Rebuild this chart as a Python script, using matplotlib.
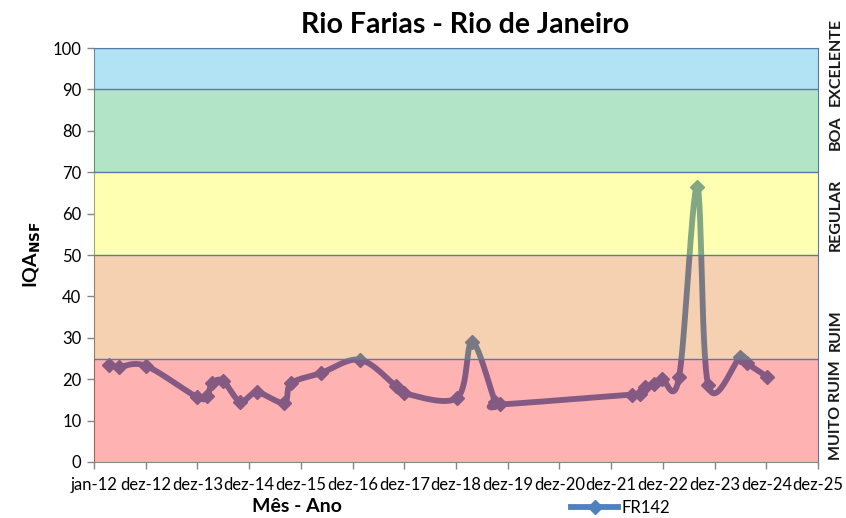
import numpy as np
import pandas as pd
import matplotlib
matplotlib.use('Agg')
import matplotlib.pyplot as plt
import matplotlib.dates as mdates
from matplotlib.lines import Line2D

# sampling dates and IQA values (FR142)
dates = ['2012-04-16', '2012-06-25', '2013-01-02', '2013-12-28', '2014-03-09',
         '2014-04-13', '2014-06-30', '2014-10-28', '2015-02-24', '2015-09-03',
         '2015-10-23', '2016-05-22', '2017-02-21', '2017-11-02', '2017-12-29',
         '2019-01-07', '2019-04-23', '2019-10-02', '2019-11-06', '2022-05-26',
         '2022-07-22', '2022-08-26', '2022-10-29', '2022-12-24', '2023-04-23',
         '2023-08-28', '2023-11-14', '2024-06-27', '2024-08-15', '2025-01-03']
iqa = [23.5, 23.0, 23.2, 15.7, 16.0,
       19.0, 19.6, 14.6, 16.8, 14.3,
       19.0, 21.5, 24.7, 18.3, 16.6,
       15.5, 29.0, 14.6, 13.9, 16.3,
       16.4, 18.1, 18.9, 20.0, 20.6,
       66.5, 18.6, 25.3, 23.8, 20.6]

tick_labels = ['jan-12', 'dez-12', 'dez-13', 'dez-14', 'dez-15', 'dez-16', 'dez-17',
               'dez-18', 'dez-19', 'dez-20', 'dez-21', 'dez-22', 'dez-23', 'dez-24', 'dez-25']

# quality classes
band_lo = [0, 25, 50, 70, 90]
band_hi = [25, 50, 70, 90, 100]
band_names = ['MUITO RUIM', 'RUIM', 'REGULAR', 'BOA', 'EXCELENTE']
band_colors = ['#FF0000', '#DE6900', '#FFFF00', '#00AC48', '#00A5DE']

plt.rcParams['font.family'] = ['Lato', 'DejaVu Sans']

x = mdates.date2num(pd.to_datetime(dates))
y = np.array(iqa, dtype=float)
x0 = mdates.date2num(pd.Timestamp('2012-01-01'))
x1 = x0 + 14 * 365
ticks = [x0 + i * 365 for i in range(15)]


def smooth(xs, ys, sx, sy, n=30):
    # Excel-like smoothed line (Catmull-Rom bezier) in pixel-ish space
    px = (xs - x0) * sx
    py = ys * sy
    pts = np.column_stack([px, py])
    pts = np.vstack([pts[0], pts, pts[-1]])
    out = []
    t = np.linspace(0, 1, n)[:, None]
    for i in range(1, len(pts) - 2):
        p0, p1, p2, p3 = pts[i - 1], pts[i], pts[i + 1], pts[i + 2]
        c1 = p1 + (p2 - p0) / 6
        c2 = p2 - (p3 - p1) / 6
        seg = ((1 - t) ** 3) * p1 + 3 * ((1 - t) ** 2) * t * c1 + 3 * (1 - t) * t ** 2 * c2 + t ** 3 * p2
        out.append(seg if i == 1 else seg[1:])
    out = np.vstack(out)
    return out[:, 0] / sx + x0, out[:, 1] / sy


fig = plt.figure(figsize=(8.46, 5.18), dpi=100)
ax = fig.add_axes([94 / 846, 1 - 462 / 518, 724 / 846, 414 / 518])

sx = 724 / (x1 - x0)
sy = 4.14
xs, ys = smooth(x, y, sx, sy)
line_col = '#4F81BD'
ax.plot(xs, ys, color=line_col, lw=4.2, solid_capstyle='round', zorder=2)
ax.plot(x, y, linestyle='none', marker='D', ms=7, color=line_col, zorder=2)

for lo, hi, c in zip(band_lo, band_hi, band_colors):
    ax.axhspan(lo, hi, facecolor=c, alpha=0.3, edgecolor='none', zorder=3)
    ax.axhline(hi, color='#5878A8', lw=1, zorder=4)

ax.set_xlim(x0, x1)
ax.set_ylim(0, 100)
ax.set_yticks(range(0, 101, 10))
ax.set_xticks(ticks)
ax.set_xticklabels(tick_labels)
ax.tick_params(axis='x', length=5, width=1, color='#868686', labelsize=12, pad=6)
ax.tick_params(axis='y', length=5, width=1, color='#868686', labelsize=12, pad=4)
for s in ['left', 'bottom']:
    ax.spines[s].set_color('#868686')
for s in ['top', 'right']:
    ax.spines[s].set_color('#5878A8')

fig.text(465 / 846, 1 - 25 / 518, 'Rio Farias - Rio de Janeiro', ha='center', va='center',
         fontsize=20.5, fontweight='bold')
fig.text(32 / 846, 1 - 255 / 518, r'IQA$_{\mathbf{NSF}}$', rotation=90, ha='center', va='center',
         fontsize=14, fontweight='bold')
fig.text(297 / 846, 1 - 507 / 518, 'Mês - Ano', ha='center', va='center',
         fontsize=14, fontweight='bold')

label_y = [410, 330, 215, 133, 62]
for name, yy in zip(band_names, label_y):
    fig.text(836 / 846, 1 - yy / 518, name, rotation=90, ha='center', va='center',
             fontsize=11.5, fontweight='bold', color='#1a1a1a')

handle = Line2D([], [], color=line_col, lw=4.2, marker='D', ms=7)
fig.legend([handle], ['FR142'], loc='center left', bbox_to_anchor=(563 / 846, 1 - 508 / 518),
           frameon=False, fontsize=12, handlelength=2.8, handletextpad=0.2, borderpad=0)

fig.savefig('out.png', dpi=100)
